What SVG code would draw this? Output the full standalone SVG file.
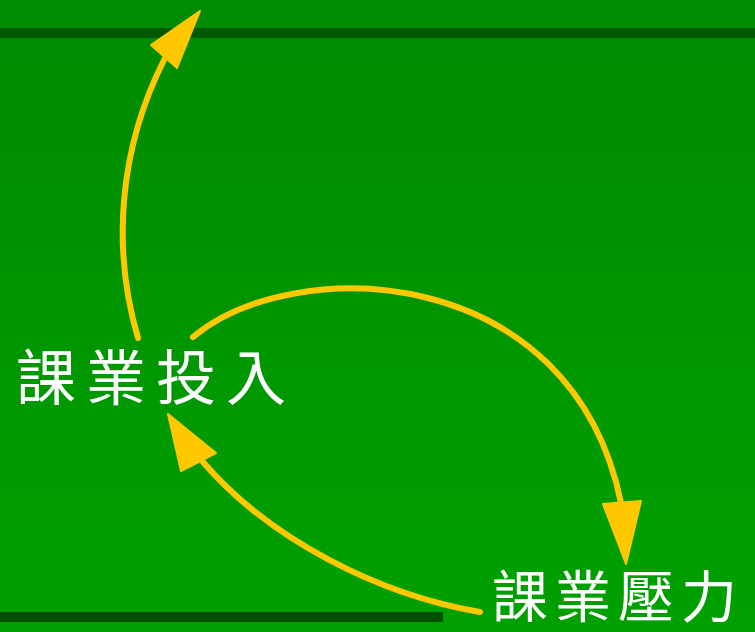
<svg xmlns="http://www.w3.org/2000/svg" width="755" height="632" viewBox="0 0 755 632">
<defs>
<linearGradient id="bg" x1="0" y1="0" x2="0" y2="1">
<stop offset="0" stop-color="#008A00"/>
<stop offset="1" stop-color="#00A000"/>
</linearGradient>
<style>
.lbl{fill:#FFFFFF;font-family:"Noto Sans CJK TC","Noto Sans CJK SC",sans-serif;font-weight:400}
.arc{fill:none;stroke:#FFC800;stroke-width:6;stroke-linecap:round}
.head{fill:#FFC800;stroke:#FFC800;stroke-width:2;stroke-linejoin:round}
</style>
</defs>
<rect x="0" y="0" width="755" height="632" fill="url(#bg)"/>
<rect x="0" y="0" width="755" height="28" fill="#008C00"/>
<rect x="0" y="28" width="755" height="10" fill="#005800"/>
<rect x="0" y="612" width="443" height="10" fill="#005000"/>
<g id="connectors">
<path class="arc" d="M138,338 C112,250 118,150 165,58"/>
<polygon class="head" points="200,11 151,45 177,68"/>
<path class="arc" d="M193,337 C295,252 572,262 621,503"/>
<polygon class="head" points="626,564 603,504 641,501"/>
<path class="arc" d="M480,612 C380,595 270,540 203,462"/>
<polygon class="head" points="168,414 181,471 216,453"/>
</g>
<g id="node-effort">
<text class="lbl" x="16" y="400" font-size="60" letter-spacing="10">課業投入</text>
</g>
<g id="node-pressure">
<text class="lbl" x="492" y="617" font-size="56" letter-spacing="7">課業壓力</text>
</g>
</svg>
